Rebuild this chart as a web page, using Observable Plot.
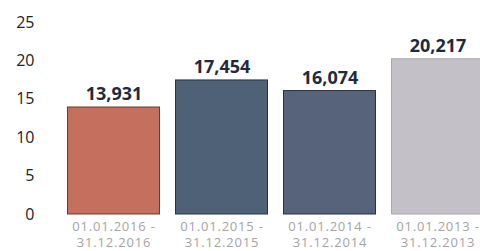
<!DOCTYPE html>
<html>
<head>
<meta charset="utf-8">
<script src="https://cdn.jsdelivr.net/npm/d3@7"></script>
<script src="https://cdn.jsdelivr.net/npm/@observablehq/plot@0.6"></script>
<style>
  html, body { margin: 0; padding: 0; background: #fff; }
  svg { display: block; overflow: hidden; }
  g[aria-label="x-axis tick label"] text { letter-spacing: 0.8px; }
</style>
</head>
<body>
<div id="chart"></div>
<script>
const periods = ["01.01.2016 -\n31.12.2016", "01.01.2015 -\n31.12.2015", "01.01.2014 -\n31.12.2014", "01.01.2013 -\n31.12.2013"];
const values = [13.931, 17.454, 16.074, 20.217];
const colors = ["#c5705f", "#4e6177", "#56637a", "#c4c0c7"];
const strokes = ["#6a3a30", "#253445", "#253445", "#aaa7ae"];
const yTicks = [0, 5, 10, 15, 20, 25];

const data = periods.map((p, i) => ({period: p, value: values[i], color: colors[i], stroke: strokes[i]}));
const fmt = v => v.toLocaleString("de-DE", {minimumFractionDigits: 3, maximumFractionDigits: 3});

const chart = Plot.plot({
  width: 480,
  height: 251,
  marginLeft: 40,
  marginBottom: 36,
  style: {fontFamily: "Open Sans, sans-serif", background: "#fff"},
  x: {domain: periods, range: [58.4, 491.6], paddingInner: 0.14, paddingOuter: 0.07, axis: null},
  y: {domain: [0, 25], range: [214, 22], axis: null},
  marks: [
    Plot.barY(data, {x: "period", y: "value", fill: "color", stroke: "stroke", strokeWidth: 1, insetLeft: 0.5, insetRight: 0.5}),
    Plot.text(data, {x: "period", y: "value", text: d => fmt(d.value), dy: -13, fontSize: 18, fontWeight: "bold", fill: "#1f2b3b"}),
    Plot.axisY({ticks: yTicks, tickSize: 0, tickPadding: 6, fontSize: 16, fill: "#222", fontWeight: 500, tickFormat: d => String(d), label: null}),
    Plot.axisX({tickSize: 0, tickPadding: 4, fontSize: 13, fill: "#a3a3a3", lineHeight: 1.25, label: null})
  ]
});
document.getElementById("chart").appendChild(chart);
</script>
</body>
</html>
